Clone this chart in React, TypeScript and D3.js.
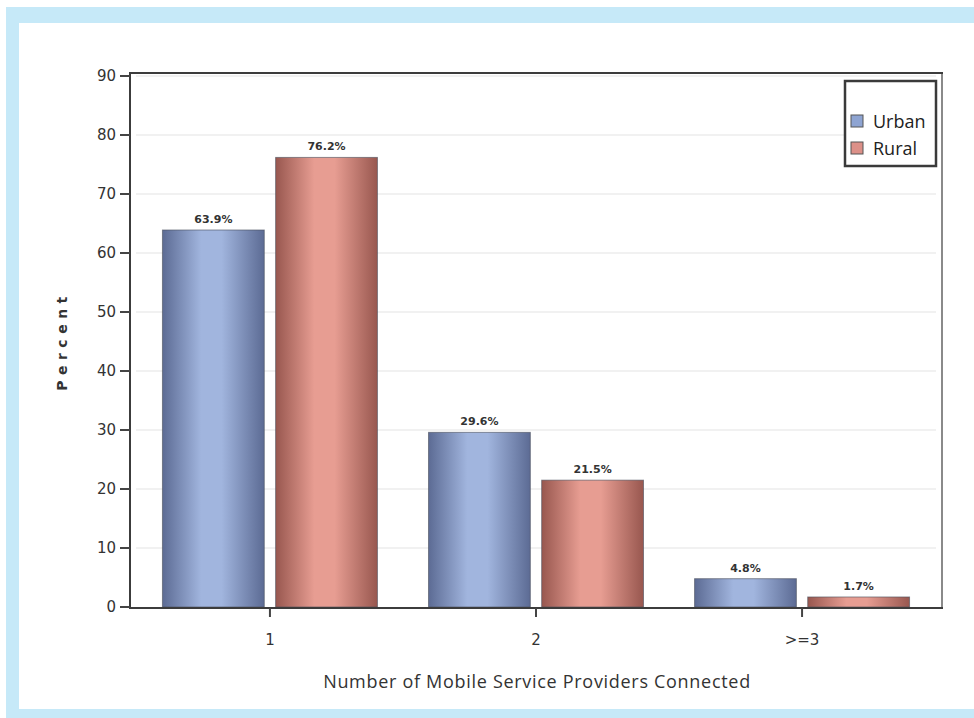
import React from "react";
import * as d3 from "d3";

// Share of households by number of mobile service providers connected
const categories = ["1", "2", ">=3"];
const seriesNames = ["Urban", "Rural"];
const urbanValues = [63.9, 29.6, 4.8];
const ruralValues = [76.2, 21.5, 1.7];
const yTicks = [0, 10, 20, 30, 40, 50, 60, 70, 80, 90];

const W = 974;
const H = 718;
const plot = { left: 130, right: 942, top: 73, bottom: 607 };

const seriesStyle: Record<string, { grad: string; edge: string; mid: string; swatch: string }> = {
  Urban: { grad: "gradUrban", edge: "#5c6b94", mid: "#a1b5de", swatch: "#8ea4d2" },
  Rural: { grad: "gradRural", edge: "#98574f", mid: "#e79d92", swatch: "#dc9088" },
};

export default function App() {
  const y = d3.scaleLinear().domain([0, 90]).range([plot.bottom, plot.top + 3]);
  const x0 = d3
    .scaleBand<string>()
    .domain(categories)
    .range([plot.left, plot.right])
    .paddingInner(0)
    .paddingOuter(0.026);
  const groupInset = (x0.bandwidth() - 215) / 2;
  const x1 = d3
    .scaleBand<string>()
    .domain(seriesNames)
    .range([groupInset, x0.bandwidth() - groupInset])
    .paddingInner(0.1);

  const rows = categories.map((c, i) => ({
    cat: c,
    values: [
      { key: "Urban", value: urbanValues[i] },
      { key: "Rural", value: ruralValues[i] },
    ],
  }));

  const tickFont = "'DejaVu Sans', Verdana, sans-serif";
  const titleFont = "'Open Sans', 'Noto Sans', sans-serif";

  return (
    <svg
      width={W}
      height={H}
      style={{ position: "absolute", left: 0, top: 0, display: "block", background: "#fff" }}
    >
      <defs>
        {seriesNames.map((s) => {
          const st = seriesStyle[s];
          return (
            <linearGradient key={s} id={st.grad} x1="0" x2="1" y1="0" y2="0">
              <stop offset="0%" stopColor={st.edge} />
              <stop offset="38%" stopColor={st.mid} />
              <stop offset="58%" stopColor={st.mid} />
              <stop offset="100%" stopColor={st.edge} />
            </linearGradient>
          );
        })}
      </defs>

      {/* light blue frame */}
      <rect x={6} y={7} width={W - 6} height={H - 7} fill="#c6e9f8" />
      <rect x={19} y={23} width={W - 19} height={709 - 23} fill="#ffffff" />

      {/* gridlines */}
      {yTicks.slice(1).map((t) => (
        <line
          key={t}
          x1={plot.left + 6}
          x2={plot.right - 6}
          y1={y(t)}
          y2={y(t)}
          stroke="#ececec"
          strokeWidth={1.5}
        />
      ))}

      {/* bars */}
      {rows.map((r) => (
        <g key={r.cat} transform={`translate(${x0(r.cat)},0)`}>
          {r.values.map((v) => {
            const bx = x1(v.key)!;
            const bw = x1.bandwidth();
            const top = y(v.value);
            return (
              <g key={v.key}>
                <rect
                  x={bx}
                  y={top}
                  width={bw}
                  height={plot.bottom - top}
                  fill={`url(#${seriesStyle[v.key].grad})`}
                  stroke="#4a4f5c"
                  strokeOpacity={0.6}
                  strokeWidth={1}
                />
                <text
                  x={bx + bw / 2}
                  y={top - 7}
                  textAnchor="middle"
                  fontFamily={tickFont}
                  fontWeight="bold"
                  fontSize={11}
                  fill="#333"
                >
                  {v.value.toFixed(1)}%
                </text>
              </g>
            );
          })}
        </g>
      ))}

      {/* plot frame */}
      <line x1={plot.right} x2={plot.right} y1={plot.top} y2={plot.bottom} stroke="#8a8a8a" strokeWidth={2} />
      <line x1={plot.left} x2={plot.right + 1} y1={plot.top} y2={plot.top} stroke="#3c3c3c" strokeWidth={2} />
      <line x1={plot.left} x2={plot.left} y1={plot.top - 1} y2={plot.bottom + 1} stroke="#3c3c3c" strokeWidth={2} />
      <line x1={plot.left - 1} x2={plot.right + 1} y1={plot.bottom + 1} y2={plot.bottom + 1} stroke="#3c3c3c" strokeWidth={2} />

      {/* y axis ticks */}
      {yTicks.map((t) => (
        <g key={t}>
          <line x1={plot.left - 10} x2={plot.left} y1={y(t)} y2={y(t)} stroke="#444" strokeWidth={2} />
          <text
            x={plot.left - 14}
            y={y(t)}
            dy="0.36em"
            textAnchor="end"
            fontFamily={tickFont}
            fontSize={15}
            fill="#333"
          >
            {t}
          </text>
        </g>
      ))}

      {/* x axis ticks */}
      {categories.map((c) => {
        const cx = x0(c)! + x0.bandwidth() / 2;
        return (
          <g key={c}>
            <line x1={cx} x2={cx} y1={plot.bottom + 1} y2={plot.bottom + 10} stroke="#444" strokeWidth={2} />
            <text x={cx} y={645} textAnchor="middle" fontFamily={tickFont} fontSize={15} fill="#333">
              {c}
            </text>
          </g>
        );
      })}

      {/* axis titles */}
      <text
        transform={`translate(67, ${(plot.top + plot.bottom) / 2 + 1}) rotate(-90)`}
        textAnchor="middle"
        fontFamily={tickFont}
        fontWeight="bold"
        fontSize={14}
        letterSpacing={5.5}
        fill="#333"
      >
        Percent
      </text>
      <text
        x={(plot.left + plot.right) / 2 + 1}
        y={688}
        textAnchor="middle"
        fontFamily={titleFont}
        fontSize={18}
        letterSpacing={0.7}
        fill="#333"
      >
        Number of Mobile Service Providers Connected
      </text>

      {/* legend */}
      <rect x={845} y={81} width={91} height={85} fill="#fff" stroke="#3a3a3a" strokeWidth={2.5} />
      {seriesNames.map((s, i) => (
        <g key={s} transform={`translate(851, ${115 + i * 27})`}>
          <rect x={0} y={0} width={12} height={12} fill={seriesStyle[s].swatch} stroke="#555" strokeWidth={1} />
          <text x={22} y={13} fontFamily={titleFont} fontSize={18} fill="#222">
            {s}
          </text>
        </g>
      ))}
    </svg>
  );
}
